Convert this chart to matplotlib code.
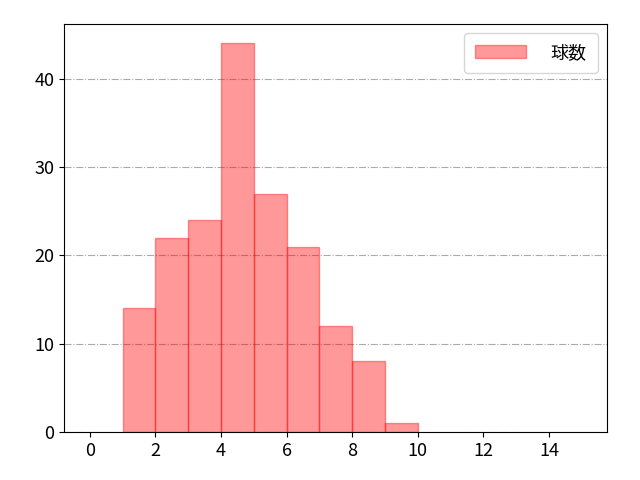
import matplotlib
matplotlib.use("Agg")
import matplotlib.pyplot as plt

plt.rcParams['font.family'] = ['Noto Sans CJK JP', 'DejaVu Sans']

bin_edges = [1, 2, 3, 4, 5, 6, 7, 8, 9, 10]
counts = [14, 22, 24, 44, 27, 21, 12, 8, 1]

fig, ax = plt.subplots(figsize=(6.4, 4.8), dpi=100)
ax.hist(bin_edges[:-1], bins=bin_edges, weights=counts, color='#ff0000', alpha=0.4,
        edgecolor='#ff0000', linewidth=1, label='球数')
ax.set_xlim(-0.79, 15.76)
ax.set_ylim(0, 46.2)
ax.set_xticks(range(0, 15, 2))
ax.set_yticks([0, 10, 20, 30, 40])
ax.yaxis.grid(True, linestyle='-.', color='#aaaaaa', linewidth=0.8)
ax.set_axisbelow(True)
ax.tick_params(labelsize=13)
ax.legend(loc='upper right', fontsize=13, handlelength=2.8, handletextpad=1.4,
          borderpad=0.6)
fig.subplots_adjust(left=0.1, right=0.948, top=0.95, bottom=0.1)
fig.savefig('out.png')
